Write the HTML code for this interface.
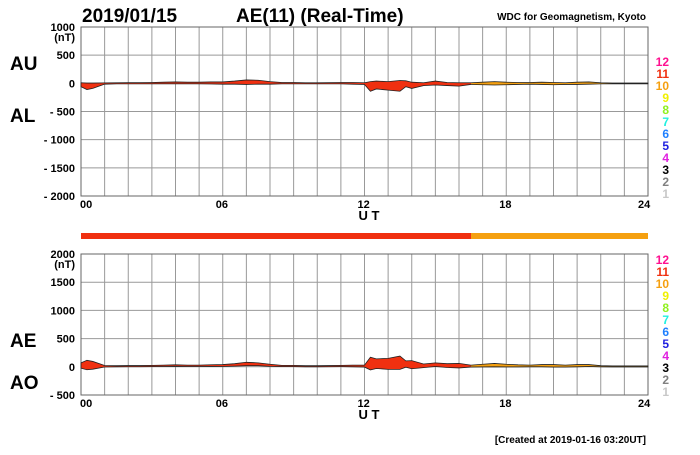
<!DOCTYPE html>
<html><head><meta charset="utf-8"><style>
body{margin:0;background:#fff;}
svg text{font-family:"Liberation Sans",sans-serif;font-weight:bold;}
</style></head><body>
<svg id="c" width="700" height="450">
<defs>
<clipPath id="cr"><rect x="0" y="0" width="471" height="450"/></clipPath>
<clipPath id="co"><rect x="471" y="0" width="300" height="450"/></clipPath>
</defs>
<text x="82" y="22" font-size="19">2019/01/15</text>
<text x="236" y="22" font-size="19">AE(11) (Real-Time)</text>
<text x="646" y="20" font-size="10" text-anchor="end" font-weight="normal">WDC for Geomagnetism, Kyoto</text>
<text x="10" y="70" font-size="19">AU</text>
<text x="10" y="122" font-size="19">AL</text>
<text x="10" y="347" font-size="19">AE</text>
<text x="10" y="389" font-size="19">AO</text>
<text x="646" y="443" font-size="10" text-anchor="end" font-weight="normal">[Created at 2019-01-16 03:20UT]</text>
<rect x="81" y="233" width="567" height="6" fill="#f03010"/>
<rect x="471" y="233" width="177" height="6" fill="#f5a010"/>
<g id="g"></g>
</svg>
<script>
const hours=[0,0.25,0.5,1,1.5,2,2.5,3,3.5,4,4.5,5,5.5,6,6.5,7,7.5,8,8.5,9,9.5,10,10.5,11,11.5,12,12.25,12.5,13,13.5,13.75,14,14.5,15,15.5,16,16.5,17,17.5,18,18.5,19,19.5,20,20.5,21,21.5,22,22.5,23,23.5,24];
const au=[10,5,5,8,10,12,12,15,20,25,20,20,25,25,40,60,55,30,15,15,10,10,12,15,15,10,30,40,30,50,45,20,10,40,15,10,10,20,30,20,15,15,20,15,10,20,25,10,5,5,5,5];
const al=[-60,-110,-90,-15,-10,-10,-10,-10,-10,-10,-10,-10,-12,-15,-15,-20,-15,-15,-10,-10,-10,-10,-10,-10,-15,-20,-140,-100,-120,-140,-60,-90,-40,-30,-40,-50,-20,-25,-30,-25,-20,-15,-20,-25,-20,-20,-15,-10,-10,-10,-10,-10];
const yTicksTop=[1000,500,0,-500,-1000,-1500,-2000];
const yTicksBot=[2000,1500,1000,500,0,-500];
const xTicks=["00","06","12","18","24"];
const stations=[12,11,10,9,8,7,6,5,4,3,2,1];
const stColors=["#ff1090","#f03010","#f5a010","#f0f000","#90f020","#20f0e0","#2080ff","#2020e0","#e020e0","#000","#808080","#c8c8c8"];
const X0=81,X1=648;
const xs=h=>X0+h/24*(X1-X0);
const yTop=v=>27+(1000-v)/3000*169;
const yBot=v=>254+(2000-v)/2500*141;
const g=document.getElementById('g');
const NS='http://www.w3.org/2000/svg';
function mk(t,a,p){const e=document.createElementNS(NS,t);for(const k in a)e.setAttribute(k,a[k]);(p||g).appendChild(e);return e;}
function panel(yf,ticks,top,bot,name,legY){
  for(let h=0;h<=24;h++){const l=mk('line',{x1:xs(h),x2:xs(h),y1:yf(ticks[0]),y2:yf(ticks[ticks.length-1]),stroke:'#999','stroke-width':1});
  
  }
  ticks.forEach((t,i)=>{const l=mk('line',{x1:X0,x2:X1,y1:yf(t),y2:yf(t),stroke:'#999','stroke-width':1});
  
  
  const tx=mk('text',{x:75,y:yf(t)+4,'font-size':11,'text-anchor':'end'});tx.textContent=t<0?'- '+(-t):t;
  
  
  if(i==0){const u=mk('text',{x:75,y:yf(t)+14,'font-size':11,'text-anchor':'end'});u.textContent='(nT)';
  
  }});
  const r=mk('rect',{x:X0,y:yf(ticks[0]),width:X1-X0,height:yf(ticks[ticks.length-1])-yf(ticks[0]),fill:'none',stroke:'#666'});
  
  
  const pts=hours.map((h,i)=>xs(h)+','+yf(top[i])).concat(hours.map((h,i)=>xs(h)+','+yf(bot[i])).reverse()).join(' ');
  [['cr','#f03010'],['co','#f5a010']].forEach(([c,f])=>{const p=mk('polygon',{points:pts,fill:f,stroke:'#222','stroke-width':0.8,'clip-path':'url(#'+c+')'});
  
  });
  const yb=yf(ticks[ticks.length-1]);
  xTicks.forEach((t,i)=>{const tx=mk('text',{x:xs(i*6)+(i==0?-1:(i==4?-10:-7)),y:yb+12,'font-size':11});tx.textContent=t;
  
  });
  const ut=mk('text',{x:xs(12)-6,y:yb+24,'font-size':13});ut.textContent='U T';
  
  
  stations.forEach((s,i)=>{const tx=mk('text',{x:669,y:legY+i*12,'font-size':12,'text-anchor':'end',fill:stColors[i]});tx.textContent=s;
  
  });
}
panel(yTop,yTicksTop,au,al,'top',66);
const ae=au.map((v,i)=>v-al[i]);
const ao=au.map((v,i)=>(v+al[i])/2);
panel(yBot,yTicksBot,ae,ao,'bottom',264);
</script>
</body></html>
